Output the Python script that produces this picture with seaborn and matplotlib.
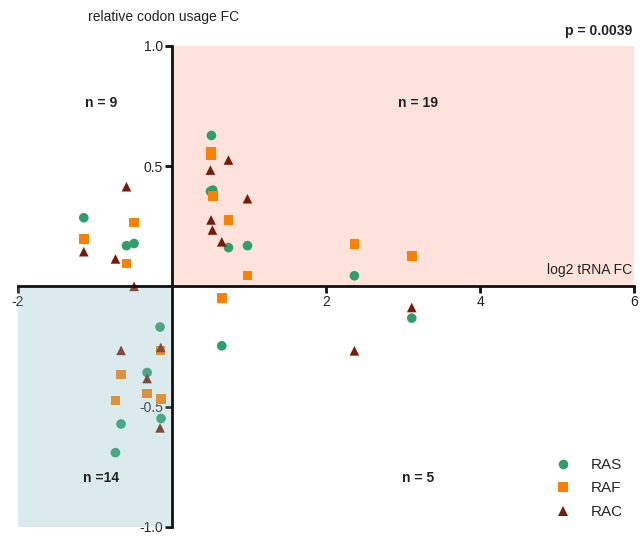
import matplotlib
matplotlib.use("Agg")
import matplotlib.pyplot as plt
from matplotlib.patches import Rectangle
import seaborn as sns
import pandas as pd

# log2 tRNA fold change (x) and relative codon usage fold change (y) per cell line
ras_x = [-1.146, -0.592, -0.493, 0.511, 0.498, 0.528, 0.732, 0.979, 2.367, 3.111,
         -0.156, -0.324, -0.143, -0.662, -0.735, 0.645]
ras_y = [0.285, 0.169, 0.178, 0.627, 0.395, 0.400, 0.161, 0.169, 0.044, -0.132,
         -0.169, -0.358, -0.549, -0.572, -0.691, -0.247]

raf_x = [-0.493, -1.146, -0.592, 0.502, 0.502, 0.528, 0.732, 0.979, 0.649, 2.367,
         3.111, -0.151, -0.662, -0.324, -0.735, -0.143]
raf_y = [0.266, 0.196, 0.095, 0.560, 0.545, 0.376, 0.276, 0.045, -0.049, 0.176,
         0.127, -0.266, -0.367, -0.446, -0.475, -0.467]

rac_x = [-0.592, -1.146, -0.735, -0.493, 0.732, 0.498, 0.979, 0.506, 0.524, 0.645,
         3.111, 2.367, -0.662, -0.147, -0.324, -0.156]
rac_y = [0.414, 0.144, 0.114, 0.000, 0.525, 0.483, 0.364, 0.276, 0.234, 0.185,
         -0.088, -0.268, -0.266, -0.254, -0.383, -0.588]

groups = ["RAS", "RAF", "RAC"]
palette = {"RAS": "#2E9E6B", "RAF": "#FF8000", "RAC": "#7A1B0A"}
markers = {"RAS": "o", "RAF": "s", "RAC": "^"}

quadrant_labels = ["n = 9", "n = 19", "n =14", "n = 5"]
p_label = "p = 0.0039"

df = pd.DataFrame({
    "tRNA": ras_x + raf_x + rac_x,
    "codon": ras_y + raf_y + rac_y,
    "line": ["RAS"] * len(ras_x) + ["RAF"] * len(raf_x) + ["RAC"] * len(rac_x),
})

sns.set_style("white")
plt.rcParams["font.family"] = ["Liberation Sans", "DejaVu Sans"]

fig = plt.figure(figsize=(6.42, 5.37), dpi=100)
ax = fig.add_axes([18 / 642, 10 / 537, 616.3 / 642, 481.3 / 537])
ax.set_xlim(-2, 6)
ax.set_ylim(-1, 1)

# shaded quadrants
ax.add_patch(Rectangle((0, 0), 6, 1, facecolor="#FDE3DB", edgecolor="none", zorder=0))

sns.scatterplot(data=df, x="tRNA", y="codon", hue="line", style="line",
                hue_order=groups, style_order=groups, palette=palette,
                markers=markers, s=48, linewidth=0, edgecolor="none",
                ax=ax, zorder=3)

ax.add_patch(Rectangle((-2, -1), 2, 1, facecolor="#8ABCC1", alpha=0.3,
                       edgecolor="none", zorder=4))

# axes crossing at the origin
for side in ["top", "right"]:
    ax.spines[side].set_visible(False)
for side in ["left", "bottom"]:
    ax.spines[side].set_position(("data", 0))
    ax.spines[side].set_linewidth(2)
    ax.spines[side].set_color("#111111")
    ax.spines[side].set_zorder(5)

ax.set_xticks([-2, 2, 4, 6])
ax.set_xticklabels(["-2", "2", "4", "6"])
ax.set_yticks([-1.0, -0.5, 0.5, 1.0])
ax.set_yticklabels(["-1.0", "-0.5", "0.5", "1.0"])
ax.tick_params(axis="both", direction="out", length=5, width=2, color="#111111",
               labelsize=10, labelcolor="#222222", pad=1.5,
               bottom=True, left=True, top=False, right=False)
ax.set_xlabel("")
ax.set_ylabel("")

fig.text(88 / 642, 1 - 17 / 537, "relative codon usage FC", fontsize=10,
         color="#222222", ha="left", va="center")
fig.text(632 / 642, 1 - 31 / 537, p_label, fontsize=10, fontweight="bold",
         color="#222222", ha="right", va="center")
ax.text(5.97, 0.07, "log2 tRNA FC", fontsize=10, color="#222222", ha="right",
        va="center", zorder=6)

for (qx, qy), lab in zip([(-0.92, 0.76), (3.19, 0.76), (-0.92, -0.795), (3.19, -0.795)],
                         quadrant_labels):
    ax.text(qx, qy, lab, fontsize=10, fontweight="bold", color="#222222",
            ha="center", va="center", zorder=6)

leg = ax.legend(loc="upper left", bbox_to_anchor=(0.837, 0.172), frameon=False,
                fontsize=11, handletextpad=0.8, labelspacing=0.62, markerscale=1.0)
leg.set_zorder(6)

fig.savefig("out.png", dpi=100)
